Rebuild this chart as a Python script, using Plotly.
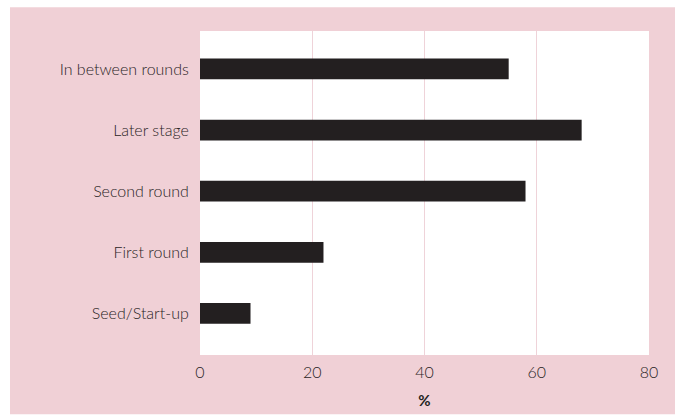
import plotly.graph_objects as go

# Funding stages, listed bottom to top
stages = ["Seed/Start-up", "First round", "Second round", "Later stage", "In between rounds"]
shares = [9, 22, 58, 68, 55]
x_ticks = [0, 20, 40, 60, 80]

pink = "#f0d0d6"
ink = "#231f20"
text_col = "#2a2425"

fig = go.Figure(
    go.Bar(
        y=stages,
        x=shares,
        orientation="h",
        marker=dict(color=ink, line=dict(width=0)),
        width=0.34,
        hoverinfo="x+y",
    )
)

W, H = 682, 419
left, right, top, bottom = 200, 33, 31, 60
pw, ph = W - left - right, H - top - bottom

fig.update_layout(
    width=W,
    height=H,
    margin=dict(l=left, r=right, t=top, b=bottom),
    paper_bgcolor="white",
    plot_bgcolor="white",
    showlegend=False,
    font=dict(family="Lato", size=16, color=text_col, weight=300),
    shapes=[
        # pink panel behind everything
        dict(
            type="rect", xref="paper", yref="paper", layer="below",
            x0=(10 - left) / pw, x1=(675 - left) / pw,
            y0=-(bottom) / ph, y1=(H - bottom - 7) / ph,
            fillcolor=pink, line=dict(width=0),
        ),
        # white plotting area
        dict(
            type="rect", xref="paper", yref="paper", layer="below",
            x0=0, x1=1, y0=0, y1=1,
            fillcolor="white", line=dict(width=0),
        ),
    ],
    xaxis=dict(
        range=[0, 80],
        tickvals=x_ticks,
        ticktext=[str(v) for v in x_ticks],
        showgrid=True,
        gridcolor="#efd3d9",
        gridwidth=1.2,
        zeroline=False,
        showline=False,
        ticks="outside",
        ticklen=3,
        tickcolor="rgba(0,0,0,0)",
        title=dict(text="<b>%</b>", font=dict(size=15, color=ink, weight=700), standoff=15),
    ),
    yaxis=dict(
        categoryorder="array",
        categoryarray=stages,
        range=[-0.68, 4.62],
        showgrid=False,
        zeroline=False,
        showline=False,
        ticks="outside",
        ticklen=7,
        tickcolor="rgba(0,0,0,0)",
    ),
)

fig.write_html("out.html")
